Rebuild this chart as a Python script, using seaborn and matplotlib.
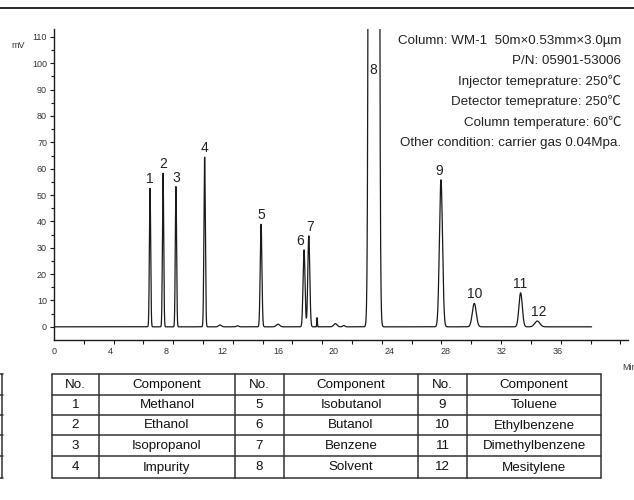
import numpy as np
import pandas as pd
import matplotlib
matplotlib.use("Agg")
import matplotlib.pyplot as plt
import seaborn as sns
from matplotlib.lines import Line2D

# ---------------- data ----------------
# main (numbered) peaks: retention time (min), height (mV), sigma (min)
main_no = ["1", "2", "3", "4", "5", "6", "7", "8", "9", "10", "11", "12"]
main_rt = [6.86, 7.79, 8.71, 10.76, 14.79, 17.86, 18.20, 22.85, 27.64, 30.02, 33.33, 34.52]
main_height = [52.6, 58.3, 53.2, 64.4, 38.9, 29.2, 34.5, 20000.0, 55.8, 8.9, 12.9, 2.2]
main_sigma = [0.045, 0.045, 0.045, 0.05, 0.06, 0.07, 0.07, 0.134, 0.11, 0.14, 0.12, 0.18]

# minor (unnumbered) peaks
minor_rt = [11.86, 13.10, 16.00, 18.79, 20.10, 20.70]
minor_height = [0.7, 0.4, 1.0, 3.5, 1.2, 0.5]
minor_sigma = [0.10, 0.08, 0.12, 0.02, 0.12, 0.08]

run_start, run_end = 0.0, 38.4
solvent_label_level = 97.6  # where "8" is written on the off-scale solvent peak

x_tick_labels = [0, 4, 8, 12, 16, 20, 24, 28, 32, 36]
y_tick_labels = [0, 10, 20, 30, 40, 50, 60, 70, 80, 90, 100, 110]

conditions = [
    "Column: WM-1  50m×0.53mm×3.0µm",
    "P/N: 05901-53006",
    "Injector temeprature: 250℃",
    "Detector temeprature: 250℃",
    "Column temperature: 60℃",
    "Other condition: carrier gas 0.04Mpa.",
]

table_no_1 = ["1", "2", "3", "4"]
table_comp_1 = ["Methanol", "Ethanol", "Isopropanol", "Impurity"]
table_no_2 = ["5", "6", "7", "8"]
table_comp_2 = ["Isobutanol", "Butanol", "Benzene", "Solvent"]
table_no_3 = ["9", "10", "11", "12"]
table_comp_3 = ["Toluene", "Ethylbenzene", "Dimethylbenzene", "Mesitylene"]

# ---------------- build trace from peak table ----------------
t = np.linspace(run_start, run_end, 9000)
sig = np.zeros_like(t)
for rt, h, s in zip(main_rt + minor_rt, main_height + minor_height, main_sigma + minor_sigma):
    sig += h * np.exp(-0.5 * ((t - rt) / s) ** 2)
df = pd.DataFrame({"time": t, "mV": sig})

# ---------------- figure ----------------
sns.set_style("ticks")
plt.rcParams["font.family"] = ["Liberation Sans", "Noto Sans CJK SC", "DejaVu Sans"]

W, H = 634, 500
fig = plt.figure(figsize=(W / 100, H / 100), dpi=100)

ax_l, ax_r, ax_t, ax_b = 54, 628, 29, 340
ax = fig.add_axes([ax_l / W, 1 - ax_b / H, (ax_r - ax_l) / W, (ax_b - ax_t) / H])
sns.lineplot(data=df, x="time", y="mV", ax=ax, color="#1a1a1a", lw=0.9,
             estimator=None, sort=False)
ax.set_xlim(0, 41)
ax.set_ylim(-5, 113)
ax.set_xlabel("")
ax.set_ylabel("")
for sp in ["top", "right"]:
    ax.spines[sp].set_visible(False)
for sp in ["left", "bottom"]:
    ax.spines[sp].set_linewidth(1.0)
    ax.spines[sp].set_color("#1a1a1a")

# x axis: labels every 4 min, tick marks at the instrument's own spacing
ax.set_xticks(x_tick_labels)
ax.set_xticklabels([str(v) for v in x_tick_labels], fontsize=6.5, color="#333333")
ax.tick_params(axis="x", which="major", length=0, pad=5)
ax.set_xticks(np.arange(0, 41, 2.129), minor=True)
ax.tick_params(axis="x", which="minor", length=3, width=0.8, direction="out", color="#1a1a1a")

ax.set_yticks(y_tick_labels)
ax.set_yticklabels([str(v) for v in y_tick_labels], fontsize=6.5, color="#333333")
ax.set_yticks(np.arange(5, 113, 10), minor=True)
ax.tick_params(axis="y", which="major", length=3, width=0.8, pad=2, color="#1a1a1a")
ax.tick_params(axis="y", which="minor", length=2, width=0.8, color="#1a1a1a")

# peak numbers
nudges = {"6": -2.5, "7": 1.0, "9": -1.0, "12": 1.0}
for no, rt, h in zip(main_no, main_rt, main_height):
    if h > 113:
        ax.text(rt - 0.06, solvent_label_level, no, ha="center", va="center",
                fontsize=10, color="#222222")
    else:
        ax.annotate(no, (rt, h), xytext=(nudges.get(no, 0.0), 1.5),
                    textcoords="offset points", ha="center", va="bottom",
                    fontsize=10, color="#222222")

# ---------------- overlay (figure pixel coordinates) ----------------
ov = fig.add_axes([0, 0, 1, 1])
ov.set_xlim(0, W)
ov.set_ylim(H, 0)
ov.axis("off")

# top rule
ov.add_line(Line2D([0, W], [8, 8], color="#1a1a1a", lw=1.3))

# axis unit labels
ov.text(18, 46, "mV", fontsize=6.5, ha="center", va="center", color="#333333")
ov.text(622, 367, "Min", fontsize=6.5, ha="left", va="center", color="#333333")

# conditions block
cond_y = [40.7, 61.0, 81.7, 101.7, 122.3, 142.7]
for yy, line in zip(cond_y, conditions):
    ov.text(621, yy, line, fontsize=9.6, ha="right", va="center", color="#222222")

# component table
col_x = [52, 99, 235, 284, 418, 467, 601]
row_y = [374, 395, 415, 435, 456, 478]
for yy in row_y:
    ov.add_line(Line2D([col_x[0], col_x[-1]], [yy, yy], color="#333333", lw=1.1))
for xx in col_x:
    ov.add_line(Line2D([xx, xx], [row_y[0], row_y[-1]], color="#333333", lw=1.1))

cols = [["No."] + table_no_1, ["Component"] + table_comp_1,
        ["No."] + table_no_2, ["Component"] + table_comp_2,
        ["No."] + table_no_3, ["Component"] + table_comp_3]
for ci, col in enumerate(cols):
    cx = (col_x[ci] + col_x[ci + 1]) / 2
    for ri, txt in enumerate(col):
        cy = (row_y[ri] + row_y[ri + 1]) / 2
        ov.text(cx, cy + 0.5, txt, fontsize=9.6, ha="center", va="center", color="#111111")

# fragment of a neighbouring table at the left edge
ov.add_line(Line2D([1.5, 1.5], [row_y[0], row_y[-1]], color="#333333", lw=1.1))
for yy in row_y:
    ov.add_line(Line2D([0, 3], [yy, yy], color="#333333", lw=1.1))

fig.savefig("out.png", dpi=100)
